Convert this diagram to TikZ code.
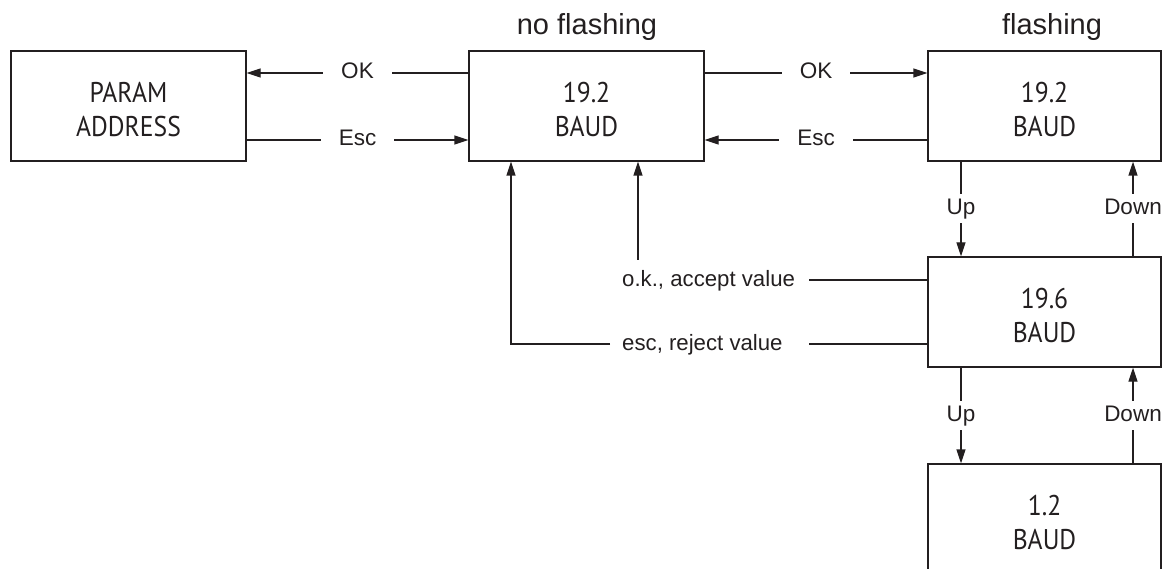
\documentclass[tikz,border=0pt]{standalone}
\usepackage{fontspec}
\setmainfont{Liberation Sans}
\newfontfamily\boxfont[FakeStretch=0.9]{PT Sans}
\usetikzlibrary{arrows.meta,calc}
\definecolor{ink}{HTML}{231F20}
\begin{document}
\begin{tikzpicture}[x=1pt,y=-1pt,
  box/.style={draw=ink, line width=1.3pt, minimum width=235pt, minimum height=110pt,
    inner sep=0pt, align=center, text height=61pt, text depth=0pt,
    font=\boxfont\fontsize{28.5}{34}\selectfont, text=ink},
  lbl/.style={fill=white, inner xsep=18pt, inner ysep=4pt, text height=16pt, text depth=5pt,
    font=\fontsize{22.5}{27}\selectfont, text=ink},
  side/.style={anchor=base west, inner sep=0pt, font=\fontsize{22.2}{27}\selectfont, text=ink},
  head/.style={anchor=base, font=\fontsize{29}{34}\selectfont, text=ink},
  conn/.style={draw=ink, line width=1.3pt},
  arr/.style={conn, -{Triangle[length=14pt,width=9pt]}}
]
\useasboundingbox (0,0) rectangle (1162,569);
\clip (0,0) rectangle (1162,569);

% boxes
\node[box] (pa) at (128.5,106) {PARAM\\ADDRESS};
\node[box] (b2) at (586.5,106) {19.2\\BAUD};
\node[box, minimum width=233pt] (b3) at (1044.5,106) {19.2\\BAUD};
\node[box, minimum width=233pt] (b4) at (1044.5,312) {19.6\\BAUD};
\node[box, minimum width=233pt] (b5) at (1044.5,519) {1.2\\BAUD};

% headings
\node[head] (nf) at (587,35) {no flashing};
\node[head] (fl) at (1052,35) {flashing};

% horizontal transitions
\draw[arr] ($(b2.west)+(0,-33)$) -- node[lbl]{OK} ($(pa.east)+(0,-33)$);
\draw[arr] ($(pa.east)+(0,34)$) -- node[lbl]{Esc} ($(b2.west)+(0,34)$);
\draw[arr] ($(b2.east)+(0,-33)$) -- node[lbl]{OK} ($(b3.west)+(0,-33)$);
\draw[arr] ($(b3.west)+(0,34)$) -- node[lbl]{Esc} ($(b2.east)+(0,34)$);

% vertical transitions
\draw[arr] ($(b3.south)+(-83.5,0)$) -- node[lbl]{Up} ($(b4.north)+(-83.5,0)$);
\draw[arr] ($(b4.north)+(88.5,0)$) -- node[lbl]{Down} ($(b3.south)+(88.5,0)$);
\draw[arr] ($(b4.south)+(-83.5,0)$) -- node[lbl]{Up} ($(b5.north)+(-83.5,0)$);
\draw[arr] ($(b5.north)+(88.5,0)$) -- node[lbl]{Down} ($(b4.south)+(88.5,0)$);

% return paths
\node[side] (okl) at (622,286.5) {o.k., accept value};
\node[side] (escl) at (622,351) {esc, reject value};
\coordinate (okE) at (809,280);
\coordinate (okC) at (638,260);
\coordinate (escE) at (809,344);
\coordinate (escW) at (610,344);
\coordinate (escC) at (511,344);
\draw[conn] (b4.west |- okE) -- (okE);
\draw[arr] (okC) -- (okC |- b2.south);
\draw[conn] (b4.west |- escE) -- (escE);
\draw[arr] (escW) -- (escC) -- (escC |- b2.south);
\end{tikzpicture}
\end{document}
